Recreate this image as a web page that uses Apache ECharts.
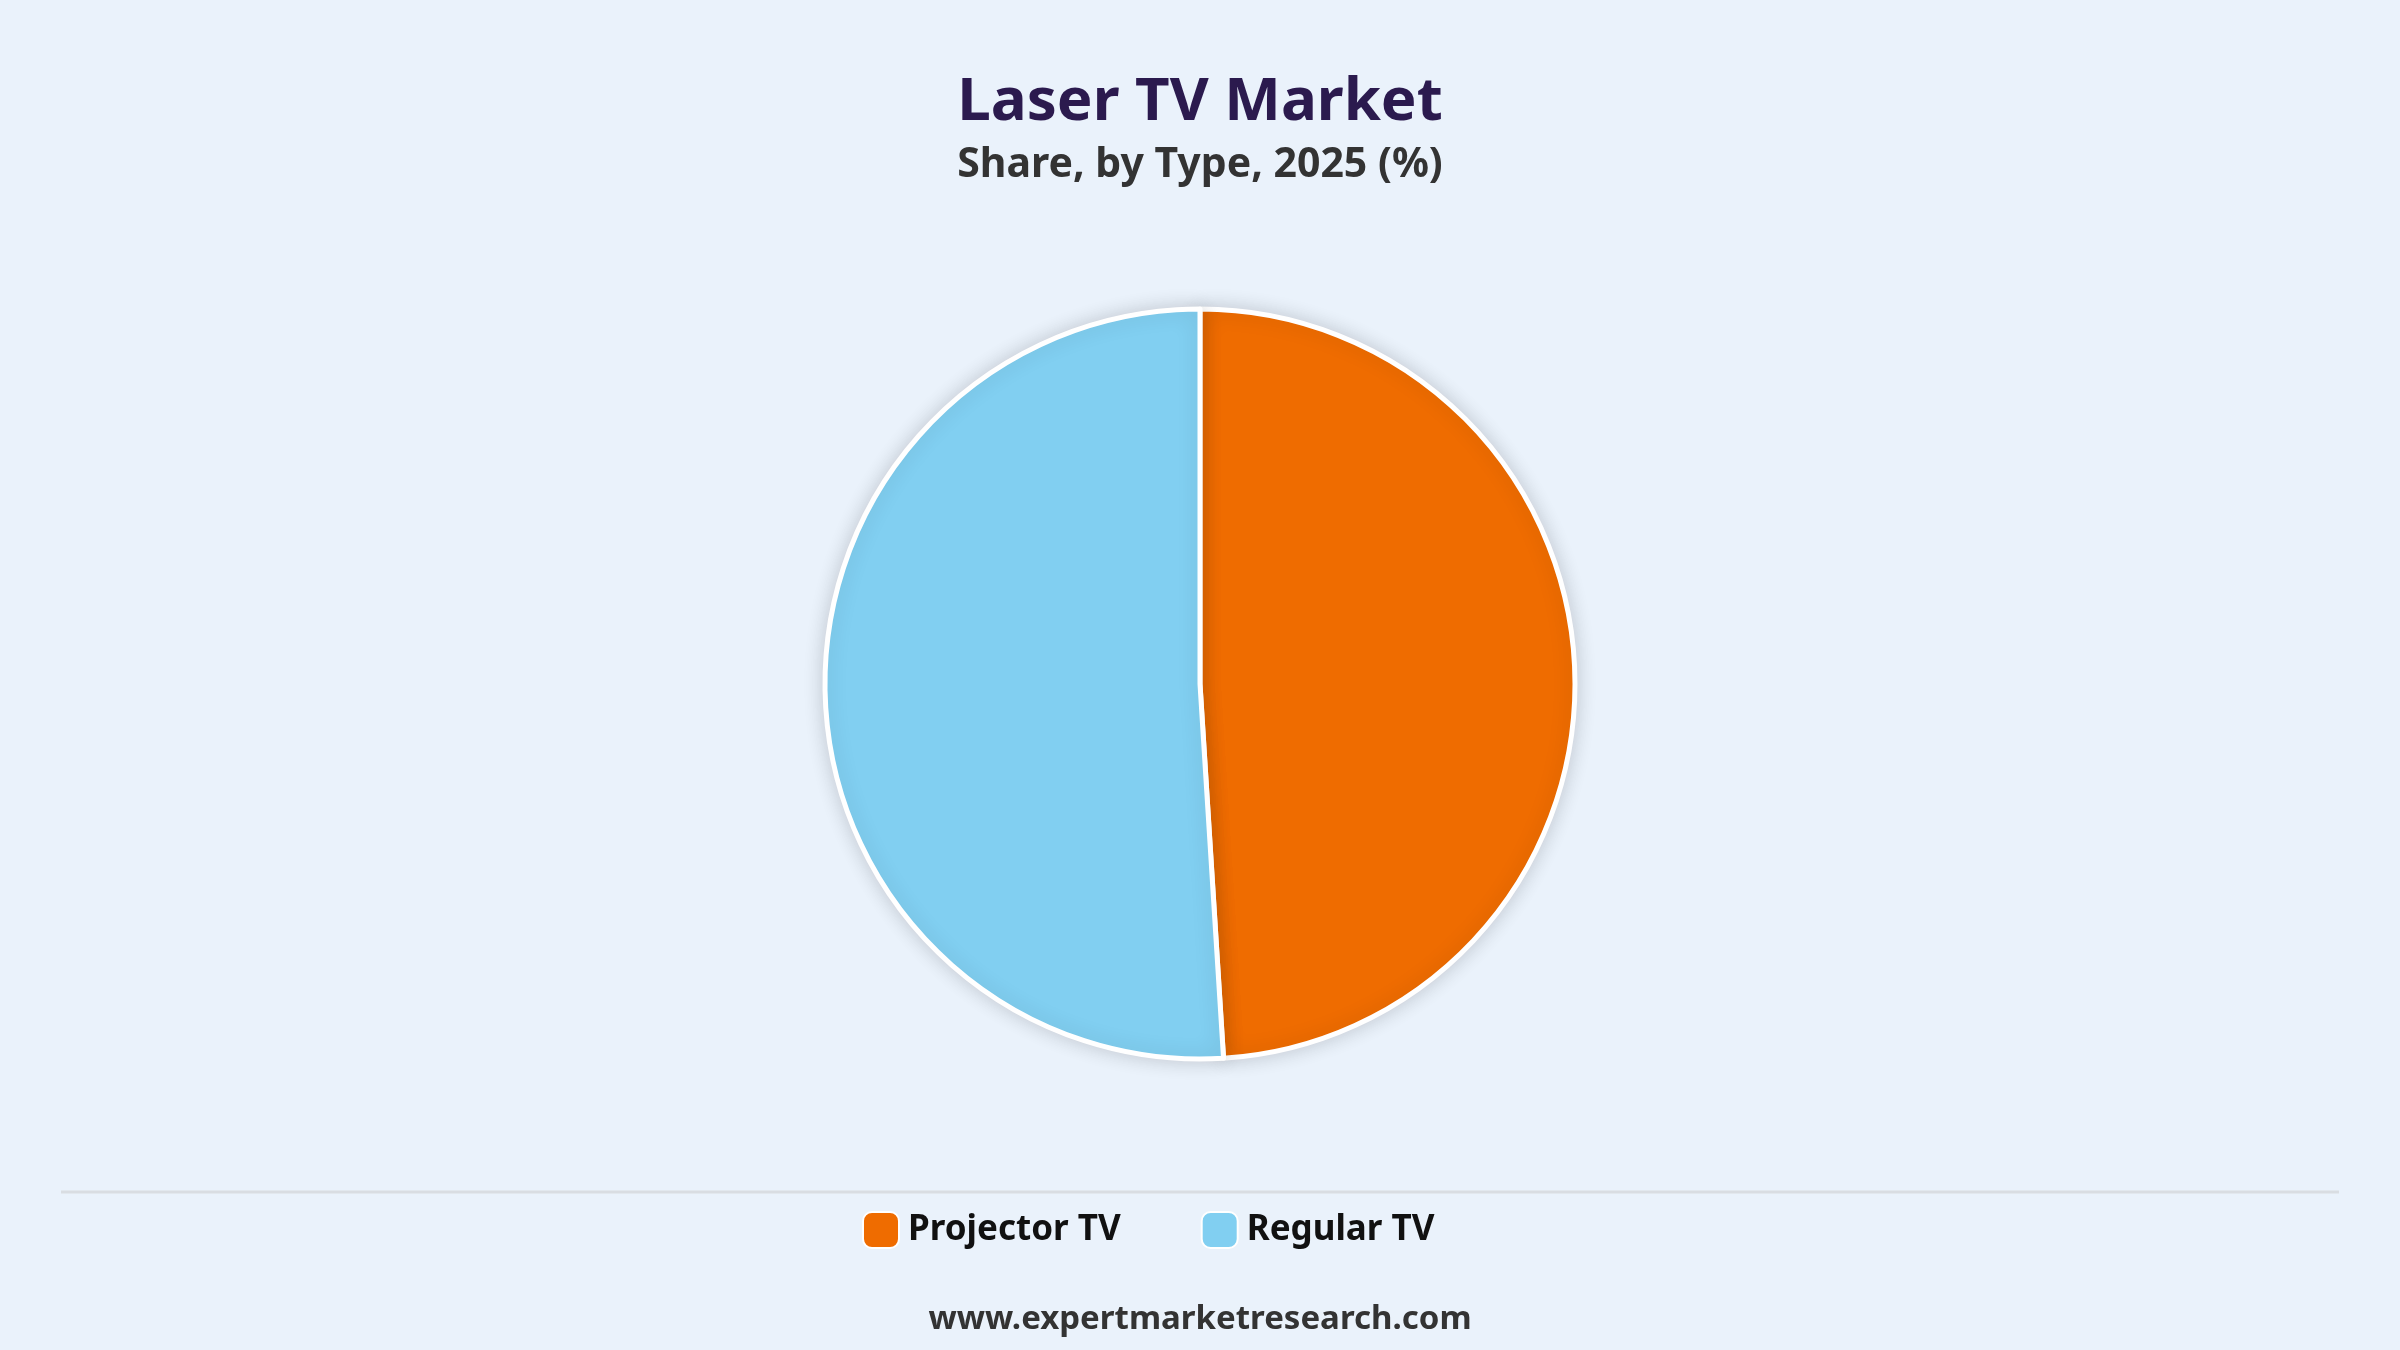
<!DOCTYPE html>
<html>
<head>
<meta charset="utf-8">
<script src="https://cdn.jsdelivr.net/npm/echarts@6/dist/echarts.min.js"></script>
<style>
  html, body { margin: 0; padding: 0; background: #eaf2fb; }
  #chart { width: 2400px; height: 1350px; }
</style>
</head>
<body>
<div id="chart"></div>
<script>
var categories = ["Projector TV", "Regular TV"];
var shares = [49, 51];
var colors = ["#ef6c00", "#81cff1"];

var chart = echarts.init(document.getElementById("chart"));

var option = {
  backgroundColor: "#eaf2fb",
  title: {
    text: "Laser TV Market",
    subtext: "Share, by Type, 2025 (%)",
    left: "center",
    top: 68,
    itemGap: 12,
    textStyle: {
      fontFamily: "Noto Sans",
      fontWeight: "bold",
      fontSize: 60,
      color: "#2b1a4e"
    },
    subtextStyle: {
      fontFamily: "Noto Sans",
      fontWeight: "bold",
      fontSize: 41,
      color: "#333333"
    }
  },
  legend: {
    data: categories,
    bottom: 96,
    left: 857,
    icon: "roundRect",
    itemWidth: 36,
    itemHeight: 36,
    itemGap: 80,
    textStyle: {
      fontFamily: "Noto Sans",
      fontWeight: "bold",
      fontSize: 35,
      color: "#111111",
      padding: [0, 0, 0, 4]
    }
  },
  graphic: [
    {
      type: "line",
      shape: { x1: 61, y1: 1192, x2: 2339, y2: 1192 },
      style: { stroke: "#d9dde2", lineWidth: 3 }
    },
    {
      type: "text",
      left: "center",
      top: 1303,
      style: {
        text: "www.expertmarketresearch.com",
        fontFamily: "Noto Sans",
        fontWeight: "bold",
        fontSize: 33,
        fill: "#333333"
      }
    }
  ],
  series: [
    {
      name: "Laser TV Market",
      type: "pie",
      center: [1200, 684],
      radius: [0, 375],
      startAngle: 90,
      clockwise: true,
      label: { show: false },
      labelLine: { show: false },
      itemStyle: {
        borderColor: "#ffffff",
        borderWidth: 5,
        shadowBlur: 20,
        shadowColor: "rgba(0,0,0,0.16)"
      },
      emphasis: { disabled: true },
      data: categories.map(function (name, i) {
        return { name: name, value: shares[i], itemStyle: { color: colors[i] } };
      })
    }
  ]
};

option && chart.setOption(option);
</script>
</body>
</html>
